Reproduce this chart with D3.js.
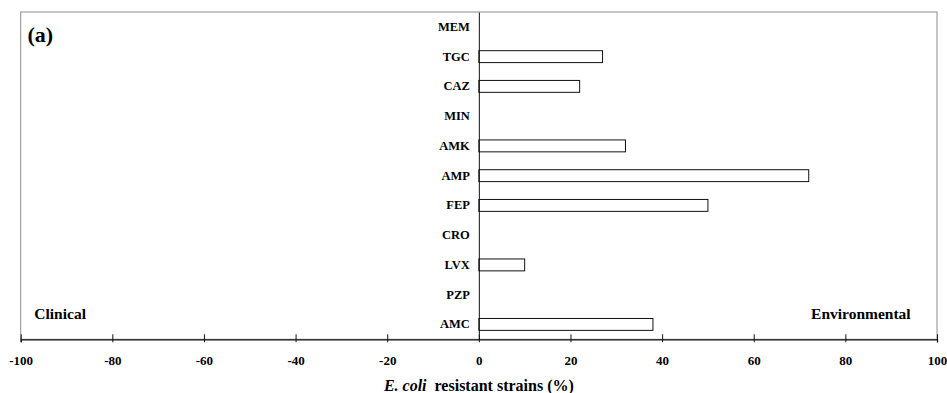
<!DOCTYPE html>
<html>
<head>
<meta charset="utf-8">
<script src="https://cdn.jsdelivr.net/npm/d3@7"></script>
<style>
  html, body { margin: 0; padding: 0; background: #fff; }
  svg { display: block; font-family: "Liberation Serif", "Times New Roman", serif; }
</style>
</head>
<body>
<svg id="chart" width="947" height="393"></svg>
<script>
// Antibiotics, top to bottom
const antibiotics = ["MEM", "TGC", "CAZ", "MIN", "AMK", "AMP", "FEP", "CRO", "LVX", "PZP", "AMC"];
// Resistant strains (%) — clinical isolates plotted to the left (negative side)
const clinicalValues = [0, 0, 0, 0, 0, 0, 0, 0, 0, 0, 0];
// Resistant strains (%) — environmental isolates plotted to the right
const environmentalValues = [0, 27, 22, 0, 32, 72, 50, 0, 10, 0, 38];
const xTicks = [-100, -80, -60, -40, -20, 0, 20, 40, 60, 80, 100];

const serif = "Liberation Serif, Times New Roman, serif";
const svg = d3.select("#chart");
const plot = { left: 20.7, right: 937, top: 12, bottom: 339.3 };

const x = d3.scaleLinear().domain([-100, 100]).range([plot.left, plot.right]);
const y = d3.scaleBand()
  .domain(antibiotics)
  .range([plot.top, plot.bottom])
  .paddingInner(0.6)
  .paddingOuter(0.3);

// plot area frame
svg.append("rect")
  .attr("x", plot.left).attr("y", plot.top)
  .attr("width", plot.right - plot.left).attr("height", plot.bottom - plot.top)
  .attr("fill", "none").attr("stroke", "#8c8c8c").attr("stroke-width", 1);

// bars
const rows = antibiotics.map((name, i) => ({
  name, clinical: clinicalValues[i], environmental: environmentalValues[i]
}));

const barG = svg.append("g");
barG.selectAll("rect.env")
  .data(rows.filter(d => d.environmental > 0))
  .join("rect")
  .attr("class", "env")
  .attr("x", x(0))
  .attr("y", d => y(d.name))
  .attr("width", d => x(d.environmental) - x(0))
  .attr("height", y.bandwidth())
  .attr("fill", "#fff").attr("stroke", "#111").attr("stroke-width", 1);

barG.selectAll("rect.clin")
  .data(rows.filter(d => d.clinical > 0))
  .join("rect")
  .attr("class", "clin")
  .attr("x", d => x(-d.clinical))
  .attr("y", d => y(d.name))
  .attr("width", d => x(0) - x(-d.clinical))
  .attr("height", y.bandwidth())
  .attr("fill", "#fff").attr("stroke", "#111").attr("stroke-width", 1);

// category axis at zero
const yAxis = svg.append("g")
  .attr("transform", `translate(${x(0)},0)`)
  .call(d3.axisLeft(y).tickSize(0).tickPadding(9).tickSizeOuter(0));
yAxis.attr("font-family", serif);
yAxis.select(".domain").attr("stroke", "#111").attr("stroke-width", 1);
yAxis.selectAll("text")
  .attr("font-size", 12.5).attr("font-weight", "bold").attr("fill", "#000");

// value axis, hyphen-minus labels
const xAxis = svg.append("g")
  .attr("transform", `translate(0,${plot.bottom})`)
  .call(d3.axisBottom(x).tickValues(xTicks).tickFormat(d => String(d))
    .tickSizeOuter(0).tickSize(3).tickPadding(13));
xAxis.attr("font-family", serif);
xAxis.select(".domain").attr("stroke", "#111").attr("stroke-width", 1.3);
xAxis.selectAll(".tick line").attr("y1", -5).attr("y2", 3).attr("stroke", "#111");
xAxis.selectAll("text")
  .attr("font-size", 13).attr("font-weight", "bold").attr("fill", "#000");

// axis title
const title = svg.append("text")
  .attr("x", x(0)).attr("y", 391)
  .attr("text-anchor", "middle")
  .attr("font-size", 16).attr("font-weight", "bold").attr("fill", "#000");
title.append("tspan").attr("font-style", "italic").text("E. coli");
title.append("tspan").text("\u00a0 resistant strains (%)");

// side labels
svg.append("text")
  .attr("x", 34.3).attr("y", 319)
  .attr("font-size", 15.5).attr("font-weight", "bold").attr("fill", "#000")
  .text("Clinical");
svg.append("text")
  .attr("x", 910.7).attr("y", 319).attr("text-anchor", "end")
  .attr("font-size", 15.5).attr("font-weight", "bold").attr("fill", "#000")
  .text("Environmental");

// panel letter
svg.append("text")
  .attr("x", 27.5).attr("y", 42)
  .attr("font-size", 22).attr("font-weight", "bold").attr("fill", "#000")
  .text("(a)");
</script>
</body>
</html>
